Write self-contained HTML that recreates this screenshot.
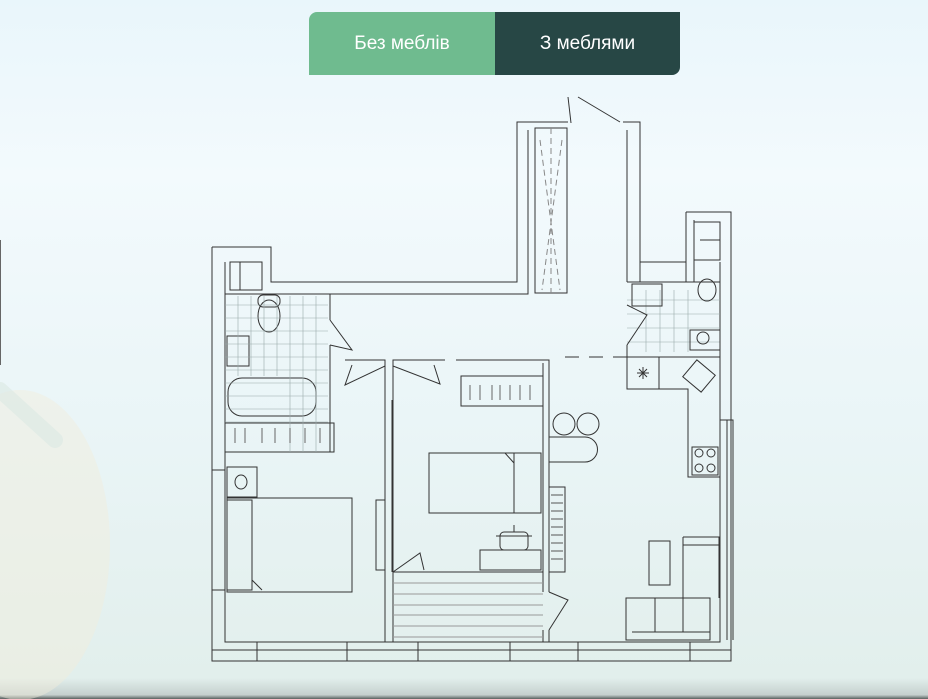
<!DOCTYPE html>
<html><head><meta charset="utf-8"><style>
html,body{margin:0;padding:0}
body{width:928px;height:699px;overflow:hidden;position:relative;font-family:"Liberation Sans",sans-serif;
background:linear-gradient(180deg,#e9f6fb 0%,#f3fafd 25%,#eaf5f7 60%,#e2efec 97%,#c5d0ce 99.4%,#59615f 100%);}
.btns{position:absolute;left:309px;top:12px;width:371px;height:63px;display:flex;border-radius:8px 0 8px 0;overflow:hidden}
.b1{width:186px;background:#6fbb8f;color:#fff;font-size:19px;display:flex;align-items:center;justify-content:center}
.b2{flex:1;background:#274745;color:#fff;font-size:19px;display:flex;align-items:center;justify-content:center}
svg{position:absolute;left:0;top:0}
</style></head><body>
<svg width="928" height="699" viewBox="0 0 928 699">
 <ellipse cx="20" cy="545" rx="90" ry="155" fill="#f1eddc" opacity="0.45"/>
 <path d="M0 390 L55 440" stroke="#dce9e4" stroke-width="16" stroke-linecap="round" opacity="0.6"/>
 <rect x="-5" y="240" width="6" height="125" fill="#666"/>
 <g fill="none" stroke="#333" stroke-width="1">
  <path d="M212 247 H271 V282 H517 V122 H568"/>
  <path d="M623 122 H640 V212"/>
  <path d="M686 212 H731 V661 H212 V247"/>
  <path d="M225 262 V642 H720 V262"/>
  <path d="M225 294 H528 V130"/>
  <path d="M686 212 V282 M694 220 V282 M640 262 H686 M627 130 V282 M640 212 V282 M627 282 H720"/>
  <path d="M568 97 L571 123 M578 97 L620 122"/>
  <rect x="535" y="128" width="32" height="165"/>
  <path d="M551 128 V293 M540 140 L560 290 M562 140 L542 290" stroke="#888" stroke-dasharray="6 4"/>
  <path d="M212 650 H731 M257 642 V661 M347 642 V661 M418 642 V661 M510 642 V661 M578 642 V661 M690 642 V661"/>
  <path d="M720 420 H733 V640 M727 420 V640"/>
  <path d="M212 470 H225 M212 590 H225" />
  <path d="M330 294 V320 M330 345 V452 M225 452 H334"/>
  <path d="M330 320 L352 350 L330 345"/>
  <rect x="228" y="378" width="88" height="38" rx="14"/>
  <rect x="227" y="336" width="22" height="30"/>
  <ellipse cx="269" cy="316" rx="11" ry="16"/>
  <rect x="258" y="295" width="22" height="12" rx="5"/>
  <path d="M230 262 H262 V290 H230Z M240 262 V290"/>
  <rect x="225" y="423" width="109" height="29"/>
 </g>
 <g stroke="#9aa" stroke-width="0.6">
  <path d="M238 296V376 M251 296V376 M264 296V376 M277 296V376 M290 296V452 M303 296V452 M316 296V452 M225 305H328 M225 318H328 M225 331H328 M225 344H328 M225 357H328 M225 370H328 M225 383H328 M225 396H328 M225 409H328 M225 422H328"/>
  <path d="M646 290V352 M660 290V352 M674 290V352 M688 290V352 M627 300H720 M627 314H720 M627 328H720 M627 342H720"/>
 </g>
 <g fill="none" stroke="#333" stroke-width="1">
  <path d="M345 360 H385 V642 M393 642 V360 H445 M456 360 H549 V592 M543 363 V592 M543 630 V642 M549 630 V642"/>
  <path d="M385 366 L345 385 L352 365 M393 366 L440 384 L434 365"/>
  <path d="M549 592 L568 600 L549 630"/>
  <path d="M627 305 L647 315 L627 345 M627 345 V357"/>
  <rect x="632" y="284" width="30" height="22"/>
  <ellipse cx="707" cy="290" rx="9" ry="11"/>
  <circle cx="703" cy="338" r="6"/>
  <rect x="690" y="330" width="30" height="20"/>
  <path d="M694 222 H720 V260 H694 M700 240 H720"/>
  <path d="M627 357 L560 357" stroke-dasharray="14 10"/>
  <path d="M627 357 H720 M627 357 V389 H688 V477 H720"/>
  <rect x="627" y="357" width="32" height="32"/>
  <path d="M637 373h12 M643 367v12 M639 369l8 8 M647 369l-8 8"/>
  <rect x="687" y="365" width="24" height="22" transform="rotate(40 699 376)"/>
  <rect x="692" y="447" width="26" height="28"/>
  <circle cx="699" cy="453" r="4"/><circle cx="711" cy="453" r="4"/><circle cx="699" cy="468" r="4"/><circle cx="711" cy="468" r="4"/>
  <circle cx="564" cy="424" r="11"/><circle cx="588" cy="424" r="11"/>
  <path d="M549 437 H585 A12.5 12.5 0 0 1 585 462 H549"/>
  <rect x="461" y="376" width="82" height="30"/>
  <path d="M470 385v15 M480 385v15 M492 385v15 M500 385v15 M510 385v15 M520 385v15 M530 385v15" stroke="#666"/>
  <path d="M235 428v15 M245 428v15 M262 428v15 M275 428v15 M290 428v15 M305 428v15 M320 428v15" stroke="#666"/>
  <rect x="227" y="498" width="125" height="94"/>
  <path d="M227 500 H252 V590 H227 M252 580 L262 590"/>
  <rect x="227" y="467" width="30" height="30"/><ellipse cx="241" cy="482" rx="6" ry="7"/>
  <rect x="429" y="453" width="112" height="60"/>
  <path d="M514 453 V513 M505 453 L514 463"/>
  <rect x="376" y="500" width="9" height="70"/>
  <rect x="549" y="487" width="16" height="85"/>
  <path d="M551 495h12 M551 503h12 M551 511h12 M551 519h12 M551 527h12 M551 535h12 M551 543h12 M551 551h12 M551 559h12" stroke="#555"/>
  <rect x="480" y="550" width="61" height="20"/>
  <rect x="500" y="532" width="28" height="18" rx="4"/>
  <path d="M514 525v7 M496 536h36"/>
  <path d="M393 572 H543 M392 400 V572"/>
  <path d="M393 572 L420 553 L424 570"/>
 </g>
 <g stroke="#999" stroke-width="1">
  <path d="M393 583H543 M393 594H543 M393 605H543 M393 615H543 M393 626H543 M393 637H543"/>
 </g>
 <g fill="none" stroke="#333" stroke-width="1">
  <path d="M683 537 H719 V598 M683 537 V598 M683 545 H719"/>
  <rect x="626" y="598" width="84" height="42"/>
  <path d="M655 598V632 M683 598V632 M632 632H710"/>
  <rect x="649" y="541" width="21" height="44"/>
 </g>
</svg>
<div class="btns"><div class="b1">Без меблів</div><div class="b2">З меблями</div></div>
</body></html>
